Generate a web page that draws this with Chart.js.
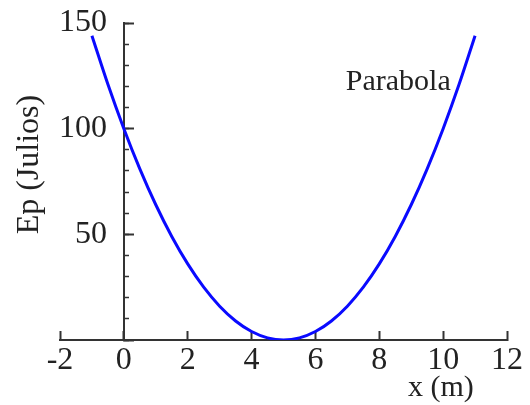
<!DOCTYPE html>
<html>
<head>
<meta charset="utf-8">
<script src="https://cdn.jsdelivr.net/npm/chart.js@4/dist/chart.umd.min.js"></script>
<style>
    html, body { margin: 0; padding: 0; background: #fff; }
    #wrap { width: 530px; height: 405px; position: relative; }
</style>
</head>
<body>
<div id="wrap"><canvas id="chart"></canvas></div>
<script>
// values (x in m, Ep in Julios)
const xValues = [-1, -0.5, 0, 0.5, 1, 1.5, 2, 2.5, 3, 3.5, 4, 4.5, 5, 5.5, 6, 6.5, 7, 7.5, 8, 8.5, 9, 9.5, 10, 10.5, 11];
const epValues = [144, 121, 100, 81, 64, 49, 36, 25, 16, 9, 4, 1, 0, 1, 4, 9, 16, 25, 36, 49, 64, 81, 100, 121, 144];
const seriesLabel = 'Parabola';
const xTitle = 'x (m)';
const yTitle = 'Ep (Julios)';

const serif = '"Liberation Serif", "DejaVu Serif", serif';
const textColor = '#222';
const axisColor = '#333';
const lineColor = '#0a0aff';

// keep the axes from asking for extra room
const noRoom = (scale) => {
    scale.paddingTop = 0;
    scale.paddingBottom = 0;
    scale.paddingLeft = 0;
    scale.paddingRight = 0;
};

// curve label + axis titles, placed through the scales
const textLabels = {
    id: 'textLabels',
    afterDraw(chart) {
        const { ctx, scales, chartArea } = chart;
        ctx.save();
        ctx.fillStyle = textColor;
        ctx.textBaseline = 'middle';

        ctx.font = '30px ' + serif;
        ctx.textAlign = 'left';
        ctx.fillText(seriesLabel, scales.x.getPixelForValue(6.95), scales.y.getPixelForValue(122));

        ctx.textAlign = 'center';
        ctx.fillText(xTitle, scales.x.getPixelForValue(9.93), chartArea.bottom + 48);

        ctx.font = '32px ' + serif;
        ctx.translate(30, scales.y.getPixelForValue(83));
        ctx.rotate(-Math.PI / 2);
        ctx.fillText(yTitle, 0, 0);
        ctx.restore();
    }
};

const ctx = document.getElementById('chart').getContext('2d');
new Chart(ctx, {
    type: 'line',
    data: {
        datasets: [{
            label: seriesLabel,
            data: xValues.map((x, i) => ({ x: x, y: epValues[i] })),
            borderColor: lineColor,
            borderWidth: 3,
            pointRadius: 0,
            cubicInterpolationMode: 'monotone',
            fill: false,
            xAxisID: 'x',
            yAxisID: 'y'
        }]
    },
    options: {
        responsive: true,
        maintainAspectRatio: false,
        animation: false,
        layout: { padding: { left: 60, right: 23, top: 23, bottom: 0 } },
        plugins: {
            legend: { display: false },
            tooltip: { enabled: false }
        },
        scales: {
            x: {
                type: 'linear',
                position: 'bottom',
                min: -2,
                max: 12,
                afterFit: (scale) => { noRoom(scale); scale.height = 65; },
                border: { color: axisColor, width: 2 },
                grid: { drawOnChartArea: false, tickLength: -9, tickColor: axisColor, tickWidth: 2 },
                ticks: {
                    stepSize: 1,
                    padding: 10,
                    color: textColor,
                    font: { family: serif, size: 32 },
                    maxRotation: 0,
                    callback: (v) => (v % 2 === 0 ? v : '')
                }
            },
            // axis line and long ticks at x = 0
            y: {
                type: 'linear',
                position: { x: 0 },
                min: 0,
                max: 150,
                afterFit: (scale) => { noRoom(scale); scale.width = 0; },
                border: { color: axisColor, width: 2 },
                grid: { drawOnChartArea: false, tickLength: -11, tickColor: axisColor, tickWidth: 2 },
                ticks: { stepSize: 50, callback: () => '' }
            },
            // short ticks every 5
            yMinor: {
                type: 'linear',
                position: { x: 0 },
                min: 0,
                max: 150,
                afterFit: (scale) => { noRoom(scale); scale.width = 0; },
                border: { display: false },
                grid: { drawOnChartArea: false, tickLength: -5, tickColor: axisColor, tickWidth: 1.5 },
                ticks: { stepSize: 5, callback: () => '' }
            },
            // tick labels, set a little left of the axis line
            yLabels: {
                type: 'linear',
                position: { x: -0.53 },
                min: 0,
                max: 150,
                afterFit: (scale) => { noRoom(scale); scale.width = 0; },
                border: { display: false },
                grid: { display: false },
                ticks: {
                    stepSize: 50,
                    color: textColor,
                    font: { family: serif, size: 32 },
                    callback: (v) => (v === 0 ? '' : v)
                }
            }
        }
    },
    plugins: [textLabels]
});
</script>
</body>
</html>
